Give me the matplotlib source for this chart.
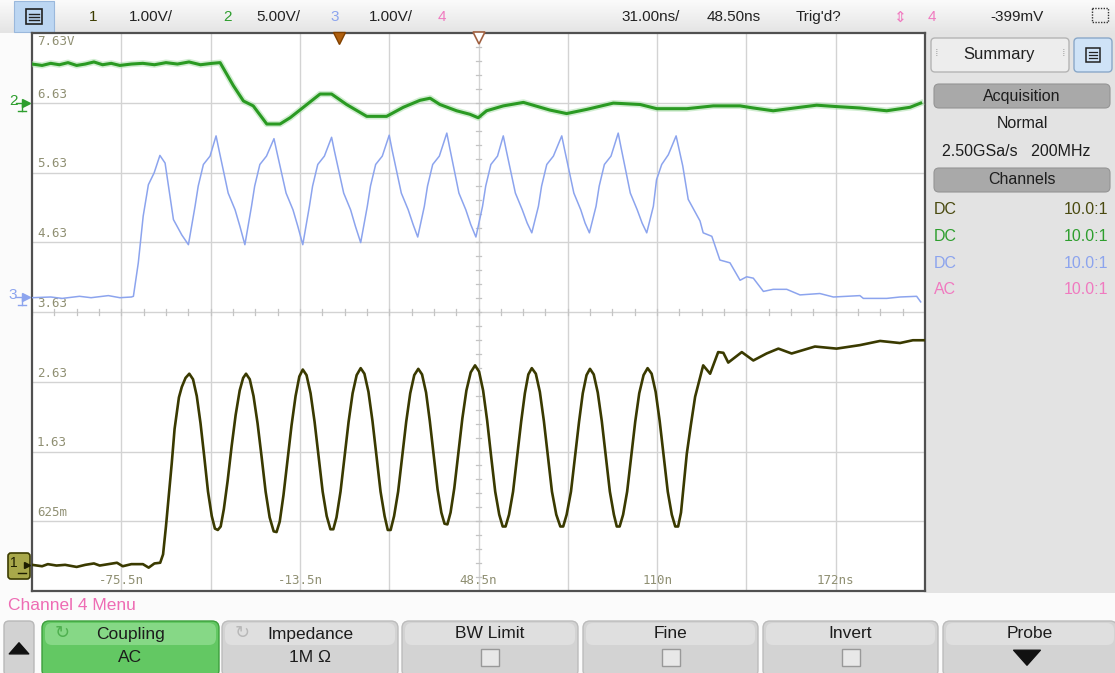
import matplotlib.pyplot as plt
import numpy as np
from matplotlib.patches import FancyBboxPatch, Rectangle
from matplotlib.colors import LinearSegmentedColormap

W, H = 1115, 673

# channel 1 (olive), time in ns, volts
ch1_t = [-106.5, -103, -101, -98, -95, -91, -88, -85, -83, -80, -77, -75, -72, -68, -66, -64, -62, -61,
         -60, -59, -58, -57, -55.5, -54.5, -53.2,
         -51.9, -50.6, -49.3, -48.0, -46.7, -45.4, -44.1, -43.0, -42.0, -41.0, -39.9, -38.6, -37.2, -35.8, -34.4, -33.2,
         -32.2, -30.9, -29.6, -28.2, -26.8, -25.4, -24.0, -22.6, -21.6, -20.5, -19.2, -17.8, -16.4, -15.0, -13.7,
         -12.5, -11.2, -9.8, -8.4, -7.0, -5.6, -4.2, -2.9, -1.9, -0.8, 0.6, 2.0, 3.4, 4.8, 6.2,
         7.6, 8.9, 10.3, 11.7, 13.1, 14.5, 15.9, 17.0, 18.0, 19.2, 20.6, 22.0, 23.4, 24.8, 26.2,
         27.6, 28.9, 30.3, 31.6, 33.0, 34.3, 35.6, 36.7, 37.7, 38.8, 40.1, 41.5, 42.9, 44.3, 45.8,
         47.3, 48.7, 50.1, 51.5, 52.9, 54.3, 55.7, 56.9, 57.9, 59.1, 60.5, 61.9, 63.3, 64.6, 65.8,
         67.0, 68.4, 69.8, 71.2, 72.6, 74.0, 75.5, 76.9, 77.9, 79.1, 80.6, 82.0, 83.4, 84.7, 86.0,
         87.2, 88.5, 89.9, 91.3, 92.7, 94.1, 95.5, 96.5, 97.5, 98.7, 100.1, 101.5, 102.9, 104.3, 105.8,
         107.2, 108.6, 110.0, 111.4, 112.8, 114.2, 115.6, 116.8, 117.8, 118.8,
         120.8, 122.2, 123.7, 126.5, 128.9, 131.7, 133.5, 135.2, 139.9, 143.9, 148.5,
         152.6, 157.2, 165.3, 172.8, 180.9, 187.9, 194.8, 199.3, 203.5]
ch1_v = [0.00, -0.02, 0.01, -0.01, 0.00, -0.03, 0.00, 0.02, -0.01, 0.01, 0.03, -0.02, 0.01, 0.01, -0.04, 0.02, 0.03, 0.15,
         0.55, 1.00, 1.45, 1.95, 2.40, 2.55, 2.68,
         2.74, 2.66, 2.42, 2.03, 1.55, 1.05, 0.70, 0.52, 0.50, 0.55, 0.80, 1.20, 1.70, 2.15, 2.50, 2.68,
         2.74, 2.66, 2.42, 2.03, 1.55, 1.05, 0.68, 0.48, 0.47, 0.62, 1.00, 1.50, 2.00, 2.42, 2.70,
         2.80, 2.72, 2.46, 2.05, 1.55, 1.05, 0.70, 0.51, 0.51, 0.68, 1.05, 1.55, 2.05, 2.46, 2.72,
         2.82, 2.74, 2.48, 2.06, 1.55, 1.05, 0.70, 0.50, 0.50, 0.70, 1.05, 1.55, 2.05, 2.46, 2.72,
         2.81, 2.73, 2.47, 2.06, 1.55, 1.08, 0.75, 0.59, 0.58, 0.75, 1.10, 1.60, 2.10, 2.50, 2.76,
         2.86, 2.77, 2.50, 2.07, 1.55, 1.05, 0.72, 0.55, 0.55, 0.72, 1.05, 1.55, 2.05, 2.46, 2.73,
         2.82, 2.74, 2.48, 2.06, 1.55, 1.05, 0.72, 0.55, 0.55, 0.72, 1.05, 1.55, 2.05, 2.46, 2.72,
         2.81, 2.73, 2.47, 2.06, 1.55, 1.05, 0.72, 0.55, 0.55, 0.72, 1.05, 1.55, 2.05, 2.46, 2.72,
         2.82, 2.74, 2.48, 2.06, 1.55, 1.05, 0.72, 0.55, 0.55, 0.75,
         1.59, 2.00, 2.41, 2.86, 2.74, 3.05, 3.04, 2.90, 3.05, 2.93, 3.03,
         3.10, 3.03, 3.13, 3.10, 3.15, 3.21, 3.18, 3.22, 3.22]

# channel 2 (green)
ch2_t = [-106.5, -103, -100, -97, -94, -91, -88, -85, -82, -79, -76, -72, -68, -64, -60, -56, -52, -48, -44,
         -41.2, -36.6, -33.1, -29.7, -25.0, -20.4, -16.9, -12.3, -6.5, -2.5, 2.7, 9.7, 16.6, 22.4, 28.2,
         31.7, 35.1, 40.9, 45.5, 48.4, 51.3, 57.1, 64.1, 73.3, 79.1, 86.1, 95.3, 104.6, 110.4, 120.8,
         130.0, 139.3, 143.9, 150.8, 160.1, 165.9, 172.8, 180.9, 190.2, 198.3, 202.0]
ch2_v = [7.18, 7.16, 7.19, 7.17, 7.20, 7.16, 7.18, 7.21, 7.17, 7.19, 7.16, 7.18, 7.19, 7.17, 7.20, 7.18, 7.21, 7.17, 7.19,
         7.20, 6.87, 6.65, 6.58, 6.32, 6.32, 6.41, 6.56, 6.75, 6.75, 6.60, 6.43, 6.43, 6.56, 6.66,
         6.69, 6.60, 6.51, 6.46, 6.41, 6.51, 6.58, 6.63, 6.52, 6.47, 6.53, 6.62, 6.60, 6.54, 6.54,
         6.58, 6.58, 6.55, 6.51, 6.56, 6.59, 6.57, 6.55, 6.51, 6.56, 6.62]

# channel 3 (blue)
ch3_t = [-106.5, -100, -96, -90, -86, -80, -76, -72, -71.3, -69.6, -67.9, -66.1, -64.1, -62.1, -60.3, -57.4, -54.5, -52.2,
         -49.9, -48.8, -47.0, -44.7, -42.6, -41.6, -38.4, -36.0, -34.3, -32.6,
         -30.3, -29.2, -27.4, -25.1, -22.5, -21.5, -18.3, -15.9, -14.2, -12.5,
         -10.2, -9.1, -7.3, -5.0, -2.5, -1.5, 1.7, 4.1, 5.8, 7.6,
         9.9, 11.0, 12.8, 15.1, 17.5, 18.5, 21.7, 24.1, 25.8, 27.4,
         29.7, 30.8, 32.6, 34.9, 37.5, 38.5, 41.7, 44.1, 45.8, 47.6,
         49.9, 51.0, 52.8, 55.1, 57.1, 58.1, 61.3, 63.7, 65.4, 67.0,
         69.3, 70.4, 72.2, 74.5, 77.4, 78.4, 81.6, 84.0, 85.5, 87.0,
         89.3, 90.4, 92.2, 94.5, 97.0, 98.0, 101.2, 103.6, 105.3, 106.9,
         109.2, 110.3, 112.1, 114.4, 117.1, 119.4, 121.3, 125.4, 126.5, 129.5, 132.3, 135.8, 139.3,
         141.6, 143.9, 147.4, 150.8, 155.5, 160.1, 167.0, 171.7, 180.9, 182.1, 190.2, 194.8, 200.6, 202.0]
ch3_v = [3.83, 3.84, 3.82, 3.85, 3.83, 3.86, 3.83, 3.84, 3.85, 4.33, 5.00, 5.45, 5.62, 5.87, 5.76, 4.95, 4.73, 4.59,
         5.14, 5.43, 5.74, 5.86, 6.15, 5.95, 5.33, 5.09, 4.85, 4.59,
         5.14, 5.43, 5.74, 5.86, 6.11, 5.92, 5.33, 5.09, 4.85, 4.59,
         5.14, 5.43, 5.74, 5.86, 6.13, 5.93, 5.33, 5.09, 4.85, 4.62,
         5.14, 5.43, 5.74, 5.86, 6.16, 5.95, 5.33, 5.09, 4.88, 4.70,
         5.14, 5.43, 5.74, 5.86, 6.19, 5.98, 5.33, 5.09, 4.88, 4.70,
         5.14, 5.43, 5.74, 5.86, 6.15, 5.95, 5.33, 5.09, 4.90, 4.76,
         5.14, 5.43, 5.74, 5.86, 6.15, 5.95, 5.33, 5.09, 4.90, 4.76,
         5.14, 5.43, 5.74, 5.86, 6.19, 5.98, 5.33, 5.09, 4.90, 4.76,
         5.14, 5.52, 5.74, 5.88, 6.15, 5.72, 5.24, 4.93, 4.76, 4.71, 4.37, 4.33, 4.08,
         4.13, 4.11, 3.92, 3.95, 3.95, 3.87, 3.89, 3.84, 3.86, 3.82, 3.82, 3.84, 3.85, 3.77]

y_labels = ["625m", "1.63", "2.63", "3.63", "4.63", "5.63", "6.63"]
x_labels = ["-75.5n", "-13.5n", "48.5n", "110n", "172ns"]
header_items = [("1", 93, '#3c3c00'), ("1.00V/", 151, '#222222'), ("2", 228, '#2e9e2e'),
                ("5.00V/", 278, '#222222'), ("3", 335, '#8ca4ee'), ("1.00V/", 391, '#222222'),
                ("4", 442, '#f07ac0'), ("31.00ns/", 651, '#222222'), ("48.50ns", 734, '#222222'),
                ("Trig'd?", 819, '#222222'), ("4", 932, '#f07ac0'), ("-399mV", 1017, '#222222')]
chan_rows = [("DC", '#4a4a10'), ("DC", '#2e9e2e'), ("DC", '#8ca4ee'), ("AC", '#f07ac0')]
buttons = [("Coupling", "AC", 42, 219), ("Impedance", "1M Ω", 222, 398), ("BW Limit", "box", 402, 578),
           ("Fine", "box", 583, 758), ("Invert", "box", 763, 938), ("Probe", "arrow", 943, 1117)]

plt.rcParams['font.family'] = ['Liberation Sans', 'DejaVu Sans']

fig = plt.figure(figsize=(W / 100, H / 100), dpi=100)
fig.patch.set_facecolor('#fbfbfb')

bg = fig.add_axes([0, 0, 1, 1])
bg.set_xlim(0, W)
bg.set_ylim(H, 0)
bg.axis('off')

# header bar
hcm = LinearSegmentedColormap.from_list('h', ['#fbfbfb', '#e4e4e4'])
bg.imshow(np.linspace(0, 1, 40).reshape(-1, 1), extent=(0, W, 33, 0), cmap=hcm, aspect='auto', zorder=0)
bg.add_patch(Rectangle((14, 1), 40, 31, fc='#bcd6f2', ec='#9ab8dc', lw=0.8, zorder=1))
bg.add_patch(Rectangle((26, 9), 16, 15, fc='none', ec='#222222', lw=1.2, zorder=2))
for yy in (13.5, 16.5, 19.5):
    bg.plot([29, 39], [yy, yy], color='#222222', lw=1, zorder=2)
for txt, xx, col in header_items:
    bg.text(xx, 17, txt, color=col, fontsize=11, ha='center', va='center', zorder=2)
bg.text(900, 17, '⇕', color='#f07ac0', fontsize=11, ha='center', va='center', family=['DejaVu Sans'])
bg.add_patch(Rectangle((1092, 8), 16, 14, fc='none', ec='#333333', lw=1, ls=(0, (1, 1))))
bg.set_xlim(0, W)
bg.set_ylim(H, 0)

# right panel
bg.add_patch(Rectangle((926, 33), 189, 560, fc='#e3e3e3', ec='none', zorder=1))
bg.add_patch(FancyBboxPatch((931, 38), 138, 34, boxstyle='round,pad=0,rounding_size=4',
                            fc='#ededed', ec='#b4b4b4', lw=1, zorder=2))
bg.text(999, 55, 'Summary', fontsize=12, ha='center', va='center', color='#222222', zorder=3)
bg.text(937, 53, '⁞', fontsize=8, ha='center', va='center', color='#999999', family=['DejaVu Sans'], zorder=3)
bg.text(1064, 53, '⁞', fontsize=8, ha='center', va='center', color='#999999', family=['DejaVu Sans'], zorder=3)
bg.add_patch(FancyBboxPatch((1074, 38), 38, 34, boxstyle='round,pad=0,rounding_size=4',
                            fc='#cfe3f7', ec='#8aa8c8', lw=1, zorder=2))
bg.add_patch(Rectangle((1086, 48), 14, 14, fc='none', ec='#222222', lw=1.1, zorder=3))
for yy in (52, 55, 58):
    bg.plot([1089, 1097], [yy, yy], color='#222222', lw=0.9, zorder=3)
for yc, txt in ((96, 'Acquisition'), (180, 'Channels')):
    bg.add_patch(FancyBboxPatch((934, yc - 12), 176, 24, boxstyle='round,pad=0,rounding_size=5',
                                fc='#a9a9a9', ec='#959595', lw=0.8, zorder=2))
    bg.text(1022, yc, txt, fontsize=11.5, ha='center', va='center', color='#1e1e1e', zorder=3)
bg.text(1022, 124, 'Normal', fontsize=11.5, ha='center', va='center', color='#1e1e1e', zorder=3)
bg.text(1016, 152, '2.50GSa/s   200MHz', fontsize=11.5, ha='center', va='center', color='#1e1e1e', zorder=3)
for i, (cp, col) in enumerate(chan_rows):
    yy = 210 + i * 26.5
    bg.text(934, yy, cp, fontsize=11.5, ha='left', va='center', color=col, zorder=3)
    bg.text(1108, yy, '10.0:1', fontsize=11.5, ha='right', va='center', color=col, zorder=3)

# channel ground markers on the left
bg.text(13, 101, '2', color='#2e9e2e', fontsize=11, ha='center', va='center')
bg.plot([26], [103], marker='>', ms=6, color='#2e9e2e')
bg.plot([16, 22, 22], [103, 103, 111], color='#2e9e2e', lw=1)
bg.plot([18, 26], [111, 111], color='#2e9e2e', lw=1)
bg.text(13, 295, '3', color='#8ca4ee', fontsize=11, ha='center', va='center')
bg.plot([26], [297], marker='>', ms=6, color='#8ca4ee')
bg.plot([16, 22, 22], [297, 297, 305], color='#8ca4ee', lw=1)
bg.plot([18, 26], [305, 305], color='#8ca4ee', lw=1)
bg.add_patch(FancyBboxPatch((8, 553), 22, 26, boxstyle='round,pad=0,rounding_size=3',
                            fc='#a8a84a', ec='#3c3c00', lw=1.2, zorder=3))
bg.text(14, 563, '1', color='#1e1e00', fontsize=10, ha='center', va='center', zorder=4)
bg.plot([27], [565], marker='>', ms=5, color='#1e1e00', zorder=4)
bg.plot([18, 26], [573, 573], color='#1e1e00', lw=1, zorder=4)

# bottom softkey menu
bg.text(8, 605, 'Channel 4 Menu', color='#ee6cb4', fontsize=12.5, ha='left', va='center')
bg.add_patch(FancyBboxPatch((4, 621), 30, 55, boxstyle='round,pad=0,rounding_size=5',
                            fc='#d2d2d2', ec='#b8b8b8', lw=1))
bg.annotate('', xy=(19, 640), xytext=(19, 656),
            arrowprops=dict(arrowstyle='simple,head_width=1.4,head_length=0.8,tail_width=0.6',
                            color='#111111', mutation_scale=10))
for top, bottom, x0, x1 in buttons:
    green = top == 'Coupling'
    base = '#63c863' if green else '#d3d3d3'
    light = '#86d886' if green else '#dfdfdf'
    edge = '#3c9e3c' if green else '#bcbcbc'
    bg.add_patch(FancyBboxPatch((x0, 621), x1 - x0, 56, boxstyle='round,pad=0,rounding_size=7',
                                fc=base, ec=edge, lw=1, zorder=2))
    bg.add_patch(FancyBboxPatch((x0 + 3, 623), x1 - x0 - 6, 22, boxstyle='round,pad=0,rounding_size=7',
                                fc=light, ec='none', zorder=2))
    cx = (x0 + x1) / 2
    bg.text(cx, 634, top, fontsize=12.5, ha='center', va='center', color='#1c1c1c', zorder=3)
    if bottom == 'box':
        bg.add_patch(Rectangle((cx - 9, 649), 18, 17, fc='#e8e8e8', ec='#999999', lw=1, zorder=3))
    elif bottom == 'arrow':
        bg.annotate('', xy=(cx - 3, 668), xytext=(cx - 3, 650),
                    arrowprops=dict(arrowstyle='simple,head_width=1.6,head_length=0.9,tail_width=0.7',
                                    color='#111111', mutation_scale=12), zorder=3)
    else:
        bg.text(cx, 658, bottom, fontsize=12.5, ha='center', va='center', color='#1c1c1c', zorder=3)
for cx in (62, 242):
    bg.text(cx, 633, '↻', fontsize=13, ha='center', va='center',
            color='#4fb04f' if cx < 100 else '#b8b8b8', family=['DejaVu Sans'], zorder=3)
bg.set_xlim(0, W)
bg.set_ylim(H, 0)

# scope graticule
ax = fig.add_axes([32 / W, (H - 591) / H, 893 / W, 558 / H])
ax.set_facecolor('white')
ax.set_xlim(-106.5, 203.5)
ax.set_ylim(-0.375, 7.625)
ax.set_xticks([])
ax.set_yticks([])
for s in ax.spines.values():
    s.set_color('#505050')
    s.set_linewidth(1.6)
for k in range(-4, 5):
    ax.axvline(48.5 + 31 * k, color='#d3d3d3', lw=1, zorder=1)
for k in range(1, 8):
    ax.axhline(-0.375 + k, color='#d3d3d3', lw=1, zorder=1)
for xt in np.arange(-106.5, 203.6, 7.75):
    ax.plot([xt, xt], [3.625 - 0.05, 3.625 + 0.05], color='#c4c4c4', lw=0.9, zorder=1)
for yt in np.arange(-0.375, 7.63, 0.2):
    ax.plot([47.5, 49.5], [yt, yt], color='#c4c4c4', lw=0.9, zorder=1)

lab_col = '#8f8f72'
for k, lab in enumerate(y_labels):
    ax.text(-104.8, 0.625 + k + 0.03, lab, family='DejaVu Sans Mono', fontsize=9,
            color=lab_col, ha='left', va='bottom', zorder=2)
ax.text(-104.8, 7.6, '7.63V', family='DejaVu Sans Mono', fontsize=9, color=lab_col, ha='left', va='top', zorder=2)
for k, lab in enumerate(x_labels):
    ax.text(-75.5 + 62 * k, -0.23, lab, family='DejaVu Sans Mono', fontsize=9,
            color=lab_col, ha='center', va='center', zorder=2)

# trigger point and delay reference markers on the top edge
ax.plot([0], [7.56], marker='v', ms=9, color='#b0600f', mec='#804000', clip_on=False, zorder=6)
ax.plot([48.5], [7.56], marker='v', ms=9, mfc='white', mec='#a06040', mew=1.2, clip_on=False, zorder=6)

ax.plot(ch2_t, ch2_v, color='#9ad89a', lw=4.5, alpha=0.45, zorder=3)
ax.plot(ch2_t, ch2_v, color='#2a9a22', lw=2.2, zorder=4)
ax.plot(ch3_t, ch3_v, color='#8ca4ee', lw=1.1, zorder=4)
ax.plot(ch1_t, ch1_v, color='#3a3a00', lw=1.9, zorder=5)

fig.savefig('out.png', dpi=100, facecolor=fig.get_facecolor())
